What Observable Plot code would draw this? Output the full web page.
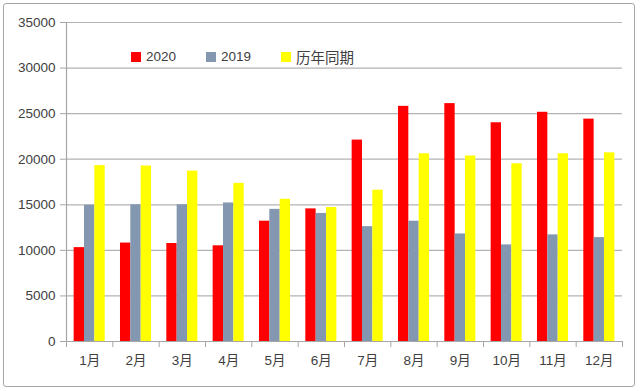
<!DOCTYPE html>
<html>
<head>
<meta charset="utf-8">
<script src="https://cdn.jsdelivr.net/npm/d3@7"></script>
<script src="https://cdn.jsdelivr.net/npm/@observablehq/plot@0.6"></script>
<style>
  html, body { margin: 0; padding: 0; background: #fff; }
  #wrap { position: relative; width: 640px; height: 391px; overflow: hidden; }
  #frame { position: absolute; left: 3px; top: 3px; width: 632px; height: 384px; box-sizing: border-box;
           border: 1px solid #a6a6a6; border-radius: 3px; pointer-events: none; }
  #legend { position: absolute; left: 131px; top: 46px; display: flex; gap: 30px; align-items: center;
            font-family: "Liberation Sans", Arial, "Noto Sans CJK SC", sans-serif; font-size: 13.5px; color: #404040; }
  #legend .item { display: flex; align-items: center; gap: 5px; }
  #legend .sw { width: 10px; height: 10px; display: inline-block; }
  #legend .cjk { font-size: 14.5px; font-family: "Noto Sans CJK SC", sans-serif; }
</style>
</head>
<body>
<div id="wrap">
  <div id="chart"></div>
  <div id="legend"></div>
  <div id="frame"></div>
</div>
<script>
const months = ["1月","2月","3月","4月","5月","6月","7月","8月","9月","10月","11月","12月"];
const seriesNames = ["2020", "2019", "历年同期"];
const seriesColors = ["#ff0000", "#8497b0", "#ffff00"];
const v2020 = [10300, 10800, 10750, 10500, 13200, 14550, 22100, 25800, 26100, 24000, 25150, 24400];
const v2019 = [14950, 15000, 15000, 15200, 14500, 14050, 12600, 13200, 11800, 10600, 11700, 11400];
const vHist = [19300, 19250, 18700, 17350, 15600, 14700, 16600, 20600, 20350, 19500, 20600, 20700];
const yTicks = [0, 5000, 10000, 15000, 20000, 25000, 30000, 35000];

const seriesValues = [v2020, v2019, vHist];
const rows = months.flatMap((m, i) => seriesNames.map((s, j) => ({i, j, month: m, series: s, value: seriesValues[j][i]})));

// group occupies the middle 2/3 of each month slot
const pad = 0.165, barW = (1 - 2 * pad) / 3;

const chart = Plot.plot({
  width: 640,
  height: 391,
  marginLeft: 66,
  marginRight: 18,
  marginTop: 22,
  marginBottom: 50,
  style: {fontSize: "13.5px", fontFamily: "'Liberation Sans', Arial, 'Noto Sans CJK SC', sans-serif", color: "#404040", background: "transparent"},
  x: {type: "linear", domain: [0, months.length]},
  y: {domain: [0, 35000]},
  color: {domain: seriesNames, range: seriesColors},
  marks: [
    Plot.gridY(yTicks, {stroke: "#b3b3b3", strokeOpacity: 1, strokeWidth: 1.2}),
    Plot.rectY(rows, {
      x1: d => d.i + pad + d.j * barW,
      x2: d => d.i + pad + (d.j + 1) * barW,
      y: "value",
      fill: "series"
    }),
    Plot.ruleX([0], {stroke: "#a6a6a6", strokeWidth: 1.2}),
    Plot.ruleY([0], {stroke: "#a6a6a6", strokeWidth: 1.2}),
    Plot.axisY({ticks: yTicks, tickSize: 6, tickPadding: 5, tickFormat: d => String(d), stroke: "#a6a6a6", fill: "#404040", label: null}),
    Plot.axisX({ticks: d3.range(0, months.length + 1), tickSize: 6, tickFormat: () => "", stroke: "#a6a6a6", label: null}),
    Plot.axisX({ticks: d3.range(months.length).map(i => i + 0.5), tickSize: 0, tickPadding: 14, tickFormat: t => months[Math.floor(t)], fill: "#404040", label: null})
  ]
});
document.getElementById("chart").appendChild(chart);

const legend = document.getElementById("legend");
seriesNames.forEach((s, j) => {
  const item = document.createElement("div");
  item.className = "item";
  const sw = document.createElement("span");
  sw.className = "sw";
  sw.style.background = seriesColors[j];
  const t = document.createElement("span");
  t.textContent = s;
  if (/[^\x00-\x7f]/.test(s)) t.className = "cjk";
  item.appendChild(sw);
  item.appendChild(t);
  legend.appendChild(item);
});
</script>
</body>
</html>
